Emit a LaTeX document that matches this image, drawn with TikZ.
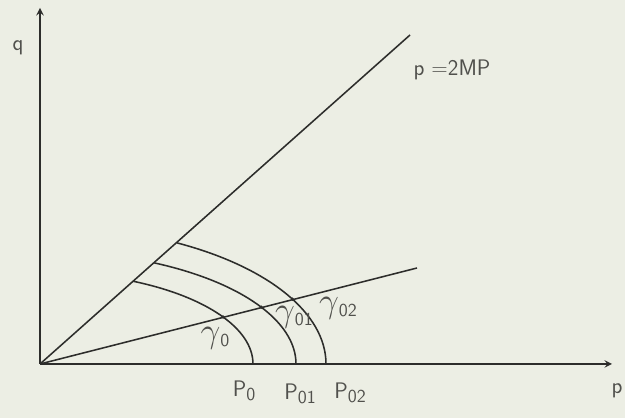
\documentclass[tikz,border=0pt]{standalone}
\usepackage{amsmath}
\definecolor{paper}{RGB}{236,238,228}
\definecolor{ink}{RGB}{45,45,43}
\definecolor{pencil}{RGB}{80,80,76}
\newcommand{\lowsub}[1]{\raisebox{-0.45ex}{\fontsize{13}{15}\selectfont #1}}
\newcommand{\gam}{\scalebox{1.45}{$\gamma$}}
\tikzset{
  lbl/.style={text=pencil, font=\fontsize{16}{19}\sffamily, inner sep=1pt},
  curve/.style={ink, line width=1.1pt},
}
\begin{document}
\begin{tikzpicture}[x=0.025cm, y=0.025cm, >=stealth]
  % paper and frame
  \fill[paper] (-40,-54) rectangle (585,364);
  \useasboundingbox (-40,-54) rectangle (585,364);

  % axes
  \coordinate (O) at (0,0);
  \coordinate (qend) at (0,356);
  \coordinate (pend) at (572,0);
  \draw[->, curve, line width=1.3pt] (O) -- (qend);
  \draw[->, curve, line width=1.3pt] (O) -- (pend);
  \node[lbl] (qlab) at (-22,316) {q};
  \node[lbl] (plab) at (577,-27) {p};

  % rays from the origin
  \coordinate (upper) at (370,329);
  \coordinate (lower) at (377,96);
  \draw[curve] (O) -- (upper);
  \draw[curve] (O) -- (lower);
  \node[lbl] (raylab) at (412,294) {p =2MP};

  % quarter ellipses p0, p01, p02
  \foreach \a/\b/\t/\s in {213/92/64.0/30.75, 256/113/63.5/30.2, 286/138/61.4/28.0}{
    \draw[curve] (\a,0) arc[start angle=0, end angle=\t, x radius=\a, y radius=\b];
    \fill[ink] ({\a*cos(\s)},{\b*sin(\s)}) circle (1.8);
  }

  \node[lbl] (g0) at (175,26) {\gam\lowsub{0}};
  \node[lbl] (g01) at (254,47) {\gam\lowsub{01}};
  \node[lbl] (g02) at (298,56) {\gam\lowsub{02}};
  \node[lbl] (p0) at (204,-27) {P\lowsub{0}};
  \node[lbl] (p01) at (260,-30) {P\lowsub{01}};
  \node[lbl] (p02) at (310,-29) {P\lowsub{02}};
\end{tikzpicture}
\end{document}
